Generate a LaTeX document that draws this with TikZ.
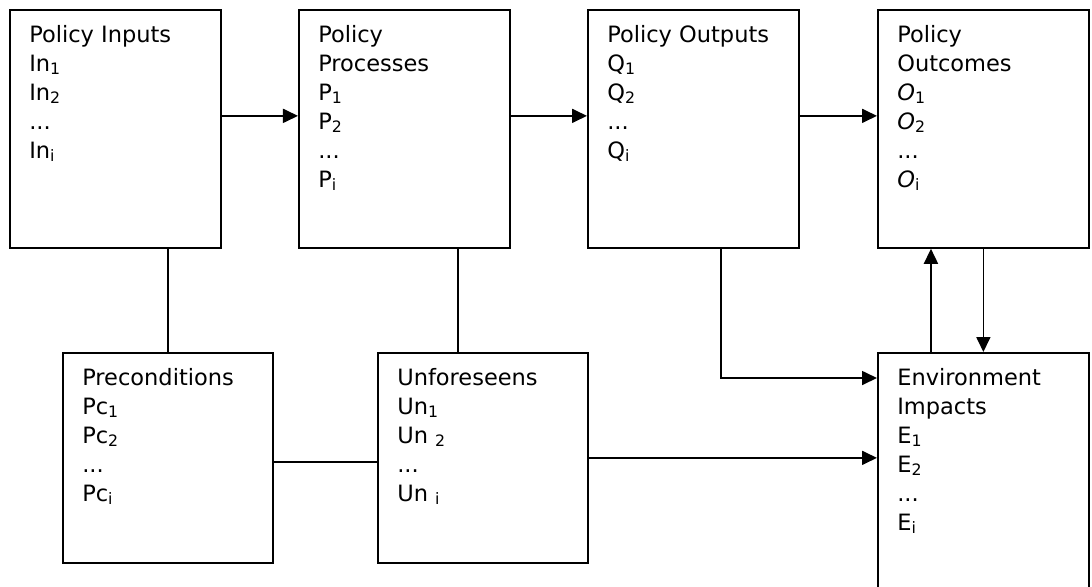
\documentclass[tikz,border=0pt]{standalone}
\usepackage{fontspec}
\setmainfont{DejaVu Sans}
\usetikzlibrary{arrows.meta}
\begin{document}
\begin{tikzpicture}[x=0.025cm,y=-0.025cm,
 box/.style={draw,line width=1.2pt,anchor=north west,inner sep=0pt,minimum width=5.275cm},
 tall/.style={box,minimum height=5.95cm},
 low/.style={box,minimum width=5.25cm,minimum height=5.25cm},
 txt/.style={anchor=north west,inner sep=0pt,align=left,font=\fontsize{16pt}{20.6pt}\selectfont},
 con/.style={line width=1pt},
 arr/.style={line width=1.2pt,-{Triangle[length=0.375cm,width=0.35cm]}}]
 \useasboundingbox (0,0) rectangle (1092,586);
 % top row
 \node[tall] (inp) at (9,9) {};
 \node[tall] (proc) at (298,9) {};
 \node[tall] (outp) at (587,9) {};
 \node[tall] (outc) at (877,9) {};
 % bottom row
 \node[low] (pre) at (62,352) {};
 \node[low] (unf) at (377,352) {};
 \node[box,minimum height=6.5cm] (env) at (877,352) {};
 % texts
 \node[txt] (inp-t) at ([shift={(0.5cm,-0.4cm)}]inp.north west) {Policy Inputs\\In\textsubscript{1}\\In\textsubscript{2}\\...\\In\textsubscript{i}};
 \node[txt] (proc-t) at ([shift={(0.5cm,-0.4cm)}]proc.north west) {Policy\\Processes\\P\textsubscript{1}\\P\textsubscript{2}\\...\\P\textsubscript{i}};
 \node[txt] (outp-t) at ([shift={(0.5cm,-0.4cm)}]outp.north west) {Policy Outputs\\Q\textsubscript{1}\\Q\textsubscript{2}\\...\\Q\textsubscript{i}};
 \node[txt] (outc-t) at ([shift={(0.5cm,-0.4cm)}]outc.north west) {Policy\\Outcomes\\\textit{O}\textsubscript{1}\\\textit{O}\textsubscript{2}\\...\\\textit{O}\textsubscript{i}};
 \node[txt] (pre-t) at ([shift={(0.5cm,-0.4cm)}]pre.north west) {Preconditions\\Pc\textsubscript{1}\\Pc\textsubscript{2}\\...\\Pc\textsubscript{i}};
 \node[txt] (unf-t) at ([shift={(0.5cm,-0.4cm)}]unf.north west) {Unforeseens\\Un\textsubscript{1}\\Un \textsubscript{2}\\...\\Un \textsubscript{i}};
 \node[txt] (env-t) at ([shift={(0.5cm,-0.4cm)}]env.north west) {Environment\\Impacts\\E\textsubscript{1}\\E\textsubscript{2}\\...\\E\textsubscript{i}};
 % connectors
 \draw[arr] ([yshift=0.325cm]inp.east) -- ([yshift=0.325cm]proc.west);
 \draw[arr] ([yshift=0.325cm]proc.east) -- ([yshift=0.325cm]outp.west);
 \draw[arr] ([yshift=0.325cm]outp.east) -- ([yshift=0.325cm]outc.west);
 \draw[con] (pre.north) -- (pre.north |- inp.south);
 \draw[con] ([xshift=1.34cm]proc.south) -- ([xshift=1.34cm]proc.south |- unf.north);
 \draw[con] ([yshift=-0.1cm]pre.east) -- ([yshift=-0.1cm]pre.east -| unf.west);
 \draw[arr] (unf.east) -- (unf.east -| env.west);
 \draw[arr] ([xshift=0.69cm]outp.south) |- ([yshift=-0.65cm]env.north west);
 \draw[arr] ([xshift=-1.31cm]env.north) -- ([xshift=-1.31cm]env.north |- outc.south);
 \draw[arr] (outc.south) -- (env.north);
\end{tikzpicture}
\end{document}
